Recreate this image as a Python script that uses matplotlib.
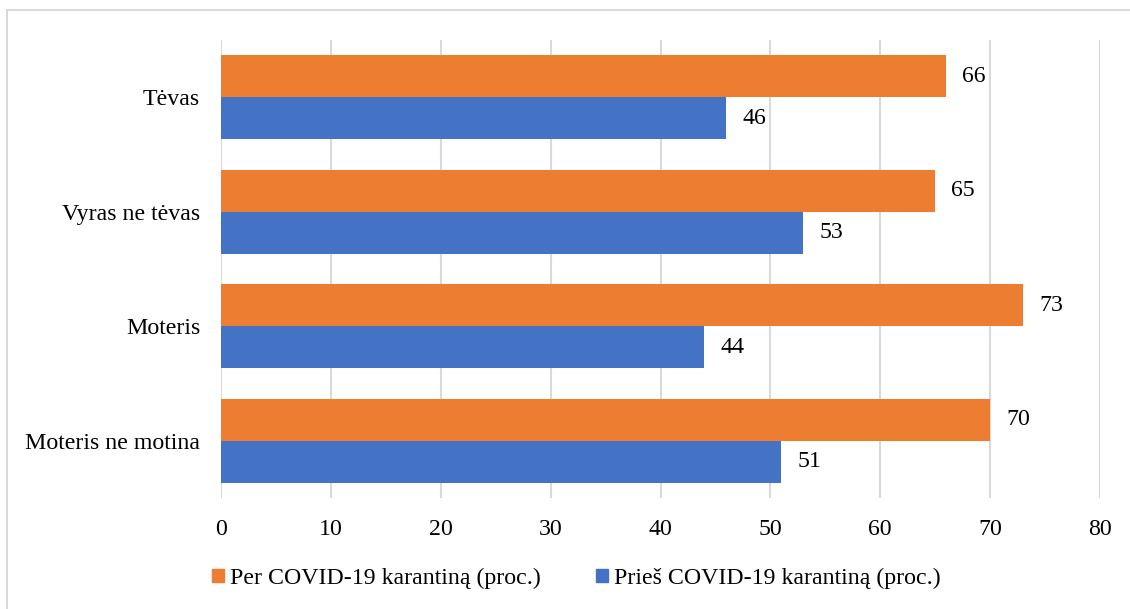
import matplotlib.pyplot as plt
from matplotlib.patches import Patch, Rectangle
import numpy as np

plt.rcParams['font.family'] = ['Liberation Serif', 'DejaVu Serif']

groups = ["Tėvas", "Vyras ne tėvas", "Moteris", "Moteris ne motina"]
per_karantina = [66, 65, 73, 70]
pries_karantina = [46, 53, 44, 51]
series_names = ["Per COVID-19 karantiną (proc.)", "Prieš COVID-19 karantiną (proc.)"]
xticks = [0, 10, 20, 30, 40, 50, 60, 70, 80]

orange = "#ED7D31"
blue = "#4472C4"
grid_col = "#D9D9D9"
fs = 17.2

fig = plt.figure(figsize=(11.3, 6.09), dpi=100)
ax = fig.add_axes([0.1956, 0.182, 0.7779, 0.752])

# first category at the top
y = np.arange(len(groups))[::-1].astype(float)
h = 0.367

b1 = ax.barh(y + h / 2, per_karantina, height=h, color=orange, zorder=2)
b2 = ax.barh(y - h / 2, pries_karantina, height=h, color=blue, zorder=2)

for bars, vals in [(b1, per_karantina), (b2, pries_karantina)]:
    for r, v in zip(bars, vals):
        ax.annotate(str(v), (v, r.get_y() + r.get_height() / 2),
                    xytext=(11.5, 0), textcoords="offset points",
                    va="center", ha="left", fontsize=fs, color="black")

ax.set_xlim(0, 80)
ax.set_ylim(-0.5, len(groups) - 0.5)
ax.set_xticks(xticks)
ax.set_yticks(y)
ax.set_yticklabels(groups)
ax.tick_params(axis="both", length=0, labelsize=fs, colors="black")
ax.tick_params(axis="x", pad=15)
ax.tick_params(axis="y", pad=15)
ax.xaxis.grid(True, color=grid_col, linewidth=1.5, zorder=0)
for s in ax.spines.values():
    s.set_visible(False)

handles = [Patch(color=orange), Patch(color=blue)]
fig.legend(handles, series_names, loc="center", bbox_to_anchor=(0.51, 0.05),
           ncol=2, frameon=False, fontsize=fs, handlelength=0.5, handleheight=0.5,
           handletextpad=0.25, columnspacing=2.3)

# outer frame
fig.patches.append(Rectangle((0.0062, -0.05), 1.05, 1.0336, transform=fig.transFigure,
                             fill=False, edgecolor=grid_col, linewidth=1.5))

fig.savefig("out.png", dpi=100)
